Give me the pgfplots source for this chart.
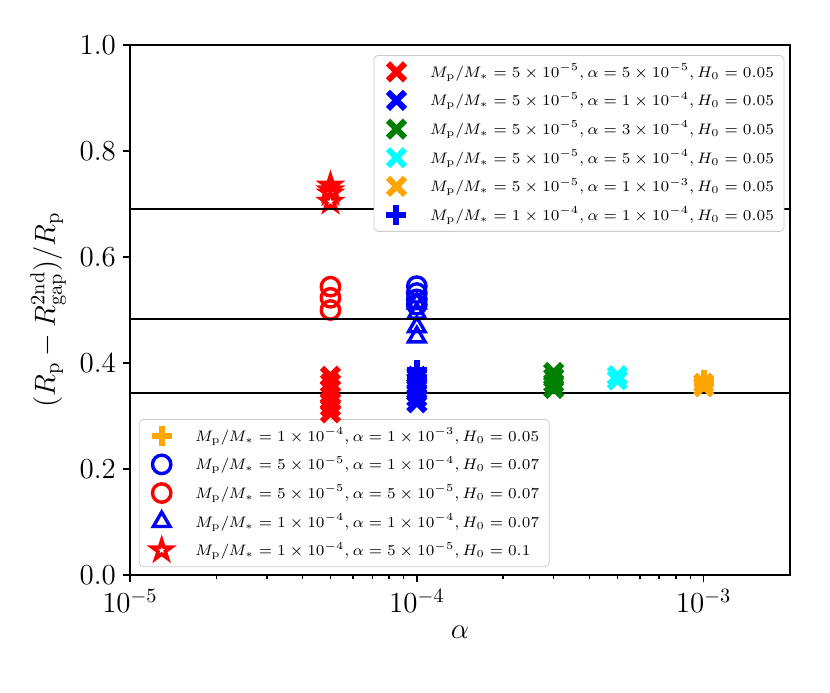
\RequirePackage{fix-cm}
\documentclass[border=0pt]{standalone}
\usepackage{pgfplots}
\pgfplotsset{compat=1.18}
\definecolor{mplorange}{RGB}{255,165,0}
\definecolor{mplgreen}{RGB}{0,128,0}
\definecolor{mplcyan}{RGB}{0,255,255}
\pgfdeclareplotmark{fstar}{%
  \pgfpathmoveto{\pgfpointpolar{90}{\pgfplotmarksize}}%
  \pgfpathlineto{\pgfpointpolar{126}{0.381\pgfplotmarksize}}%
  \pgfpathlineto{\pgfpointpolar{162}{\pgfplotmarksize}}%
  \pgfpathlineto{\pgfpointpolar{198}{0.381\pgfplotmarksize}}%
  \pgfpathlineto{\pgfpointpolar{234}{\pgfplotmarksize}}%
  \pgfpathlineto{\pgfpointpolar{270}{0.381\pgfplotmarksize}}%
  \pgfpathlineto{\pgfpointpolar{306}{\pgfplotmarksize}}%
  \pgfpathlineto{\pgfpointpolar{342}{0.381\pgfplotmarksize}}%
  \pgfpathlineto{\pgfpointpolar{18}{\pgfplotmarksize}}%
  \pgfpathlineto{\pgfpointpolar{54}{0.381\pgfplotmarksize}}%
  \pgfpathclose
  \pgfusepathqfillstroke
}
\tikzset{
  xstyle/.style={mark=x, mark size=6pt, mark options={line width=3pt, solid}},
  pstyle/.style={mark=+, mark size=5pt, mark options={line width=3pt, solid}},
  ostyle/.style={mark=o, mark size=4.6pt, mark options={line width=1.7pt, solid, fill=none}},
  tstyle/.style={mark=triangle, mark size=4.8pt, mark options={line width=1.7pt, solid, fill=none}},
  sstyle/.style={mark=fstar, mark size=5pt, mark options={line width=1.8pt, solid, fill=white}},
}
\pgfplotsset{
  mylegimg/.style={legend image code/.code={%
    \path (0pt,0pt) (22.5pt,0pt);
    \draw[mark repeat=2,mark phase=2,##1] plot coordinates {(0pt,0pt) (8pt,0pt) (16pt,0pt)};}},
}
\begin{document}
\begin{tikzpicture}
\useasboundingbox (-65pt,-58.5pt) rectangle (350pt,287.5pt);
% second group of series, with the lower legend
\begin{axis}[at={(0,0)}, anchor=south west,
  scale only axis, width=330pt, height=265pt,
  xmode=log, xmin=1e-5, xmax=2e-3, ymin=0, ymax=1,
  legend cell align=left, hide axis,
  legend style={at={(0.0135,0.015)}, anchor=south west,
    font=\fontsize{7.6}{9}\selectfont, draw=black!20, rounded corners=2pt,
    fill=white, row sep=2pt},
]
\addplot[only marks, pstyle, color=mplorange, mylegimg] coordinates {(1e-3,0.368) (1e-3,0.360)};
\addlegendentry{$M_\mathrm{p}/M_* = 1\times10^{-4}, \alpha = 1\times10^{-3}, H_0 = 0.05$}
\addplot[only marks, ostyle, color=blue, mylegimg] coordinates {(1e-4,0.545) (1e-4,0.532) (1e-4,0.520) (1e-4,0.510)};
\addlegendentry{$M_\mathrm{p}/M_* = 5\times10^{-5}, \alpha = 1\times10^{-4}, H_0 = 0.07$}
\addplot[only marks, ostyle, color=red, mylegimg] coordinates {(5e-5,0.544) (5e-5,0.523) (5e-5,0.500)};
\addlegendentry{$M_\mathrm{p}/M_* = 5\times10^{-5}, \alpha = 5\times10^{-5}, H_0 = 0.07$}
\addplot[only marks, tstyle, color=blue, mylegimg] coordinates {(1e-4,0.513) (1e-4,0.494) (1e-4,0.468) (1e-4,0.449)};
\addlegendentry{$M_\mathrm{p}/M_* = 1\times10^{-4}, \alpha = 1\times10^{-4}, H_0 = 0.07$}
\addplot[only marks, sstyle, color=red, mylegimg] coordinates {(5e-5,0.735) (5e-5,0.726) (5e-5,0.720) (5e-5,0.704)};
\addlegendentry{$M_\mathrm{p}/M_* = 1\times10^{-4}, \alpha = 5\times10^{-5}, H_0 = 0.1$}
\end{axis}
% first group, axes, reference lines and upper legend
\begin{axis}[at={(0,0)}, anchor=south west,
  scale only axis, width=330pt, height=265pt,
  xmode=log, xmin=1e-5, xmax=2e-3, ymin=0, ymax=1,
  legend cell align=left,
  tick pos=left, tick align=outside,
  major tick length=3.5pt, minor tick length=2pt,
  every tick/.style={black, line width=0.8pt},
  axis line style={line width=0.8pt},
  ytick={0,0.2,0.4,0.6,0.8,1.0},
  yticklabel style={/pgf/number format/.cd, fixed, fixed zerofill, precision=1},
  tick label style={font=\fontsize{14.5}{16}\selectfont},
  label style={font=\fontsize{14.5}{16}\selectfont},
  xlabel={$\alpha$},
  ylabel={$(R_\mathrm{p}-R_\mathrm{gap}^\mathrm{2nd})/R_\mathrm{p}$},
  legend style={at={(0.9915,0.981)}, anchor=north east,
    font=\fontsize{7.6}{9}\selectfont, draw=black!20, rounded corners=2pt,
    fill=white, row sep=2pt},
]
\addplot[only marks, xstyle, color=red, mylegimg] coordinates {(5e-5,0.375) (5e-5,0.362) (5e-5,0.350) (5e-5,0.338) (5e-5,0.327) (5e-5,0.317) (5e-5,0.306)};
\addlegendentry{$M_\mathrm{p}/M_* = 5\times10^{-5}, \alpha = 5\times10^{-5}, H_0 = 0.05$}
\addplot[only marks, xstyle, color=blue, mylegimg] coordinates {(1e-4,0.375) (1e-4,0.365) (1e-4,0.355) (1e-4,0.345) (1e-4,0.335) (1e-4,0.325)};
\addlegendentry{$M_\mathrm{p}/M_* = 5\times10^{-5}, \alpha = 1\times10^{-4}, H_0 = 0.05$}
\addplot[only marks, xstyle, color=mplgreen, mylegimg] coordinates {(3e-4,0.382) (3e-4,0.372) (3e-4,0.362) (3e-4,0.352)};
\addlegendentry{$M_\mathrm{p}/M_* = 5\times10^{-5}, \alpha = 3\times10^{-4}, H_0 = 0.05$}
\addplot[only marks, xstyle, color=mplcyan, mylegimg] coordinates {(5e-4,0.376) (5e-4,0.368)};
\addlegendentry{$M_\mathrm{p}/M_* = 5\times10^{-5}, \alpha = 5\times10^{-4}, H_0 = 0.05$}
\addplot[only marks, xstyle, color=mplorange, mylegimg] coordinates {(1e-3,0.362) (1e-3,0.355)};
\addlegendentry{$M_\mathrm{p}/M_* = 5\times10^{-5}, \alpha = 1\times10^{-3}, H_0 = 0.05$}
\addplot[only marks, pstyle, color=blue, mylegimg] coordinates {(1e-4,0.387) (1e-4,0.372)};
\addlegendentry{$M_\mathrm{p}/M_* = 1\times10^{-4}, \alpha = 1\times10^{-4}, H_0 = 0.05$}
\addplot[black, line width=1pt, forget plot] coordinates {(1e-5,0.690) (2e-3,0.690)};
\addplot[black, line width=1pt, forget plot] coordinates {(1e-5,0.483) (2e-3,0.483)};
\addplot[black, line width=1pt, forget plot] coordinates {(1e-5,0.343) (2e-3,0.343)};
\end{axis}
\end{tikzpicture}
\end{document}
